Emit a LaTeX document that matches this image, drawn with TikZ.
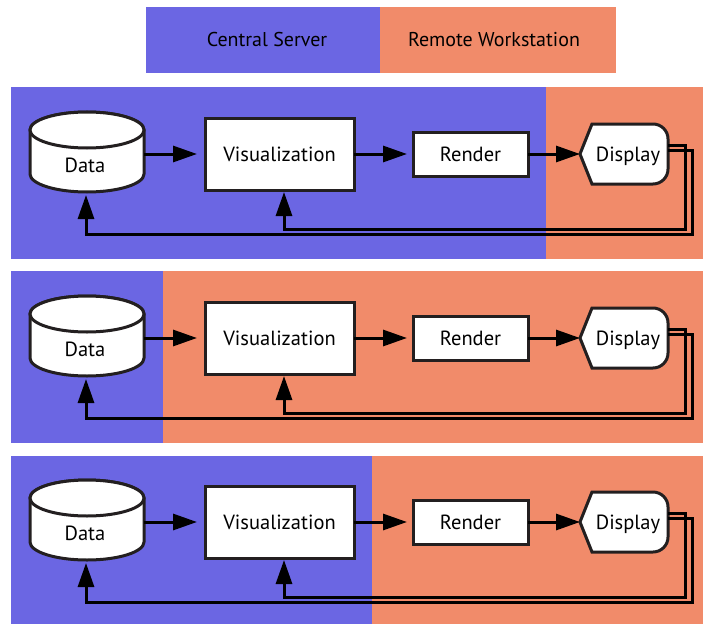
\documentclass[tikz,border=0pt]{standalone}
\usepackage{fontspec}
\setmainfont{PT Sans}
\usetikzlibrary{arrows.meta,calc}
\definecolor{server}{HTML}{6B66E3}
\definecolor{remote}{HTML}{F18B6A}
\definecolor{ink}{HTML}{231F20}
\begin{document}
\begin{tikzpicture}[x=1pt,y=-1pt,
  box/.style={draw=ink, line width=3pt, fill=white},
  hidden/.style={draw=none, inner sep=0pt, outer sep=0pt},
  txt/.style={font=\fontsize{20.5}{21}\selectfont, text=black, text height=15pt, text depth=0pt, inner sep=0pt, outer sep=0pt},
  legend/.style={font=\fontsize{20}{20}\selectfont, text=black, anchor=base, inner sep=0pt},
  flow/.style={draw=black, line width=3pt, -{Triangle[length=24pt,width=16pt]}},
]
\useasboundingbox (0,0) rectangle (703,623);
\clip (0,0) rectangle (703,623);

% legend bar
\fill[server] (146,7) rectangle (380,73);
\fill[remote] (380,7) rectangle (616,73);
\node[legend] (lserver) at (267,47) {Central Server};
\node[legend] (lremote) at (494,47) {Remote Workstation};

% three pipelines, each split differently between server and workstation
\foreach \i/\dy/\top/\split in {1/0/87/546, 2/184/271/163, 3/368/456/372} {
  \fill[server] (11,\top) rectangle (\split,\top+172);
  \fill[remote] (\split,\top) rectangle (720,\top+172);

  % data store (cylinder)
  \node[hidden, minimum width=114pt, minimum height=80pt] (data\i) at (87,152+\dy) {};
  \filldraw[box] ($(data\i)+(-57,-22)$) -- ($(data\i)+(-57,22)$)
     arc[start angle=180, end angle=360, x radius=57pt, y radius=18pt]
     -- ($(data\i)+(57,-22)$)
     arc[start angle=0, end angle=180, x radius=57pt, y radius=18pt] -- cycle;
  \draw[box] ($(data\i)+(0,-22)$) ellipse[x radius=57pt, y radius=18pt];
  \node[txt] (datalabel\i) at ($(data\i)+(-2,13)$) {Data};

  % visualization and render stages
  \node[box, txt, minimum width=149pt, minimum height=72pt] (vis\i) at (279.5,154+\dy) {Visualization};
  \node[box, txt, minimum width=115pt, minimum height=44pt] (ren\i) at (470.5,154+\dy) {Render};

  % display (hexagon-like with rounded right side)
  \coordinate (dc\i) at (624,154+\dy);
  \filldraw[box] ($(dc\i)+(-44,0)$) -- ($(dc\i)+(-32,-30)$) -- ($(dc\i)+(29,-30)$)
     arc[start angle=90, end angle=0, radius=15pt] -- ($(dc\i)+(44,15)$)
     arc[start angle=0, end angle=-90, radius=15pt] -- ($(dc\i)+(-32,30)$) -- cycle;
  \node[hidden, txt, minimum width=88pt, minimum height=60pt] (disp\i) at (dc\i) {\hspace*{8pt}Display};

  % forward flow
  \draw[flow, shorten >=8pt] (vis\i.west -| data\i.east) -- (vis\i.west);
  \draw[flow, shorten >=6pt] (vis\i.east) -- (ren\i.west);
  \draw[flow] (ren\i.east) -- (disp\i.west);

  % feedback from the display
  \draw[flow, shorten >=2pt] ($(disp\i.east)+(0,-9)$) -| (685,229+\dy) -| ($(vis\i.south)+(4.5,0)$);
  \draw[flow, shorten >=3pt] ($(disp\i.east)+(0,-4)$) -| (692,234+\dy) -| ($(data\i.south)+(-1,0)$);
}
\end{tikzpicture}
\end{document}
